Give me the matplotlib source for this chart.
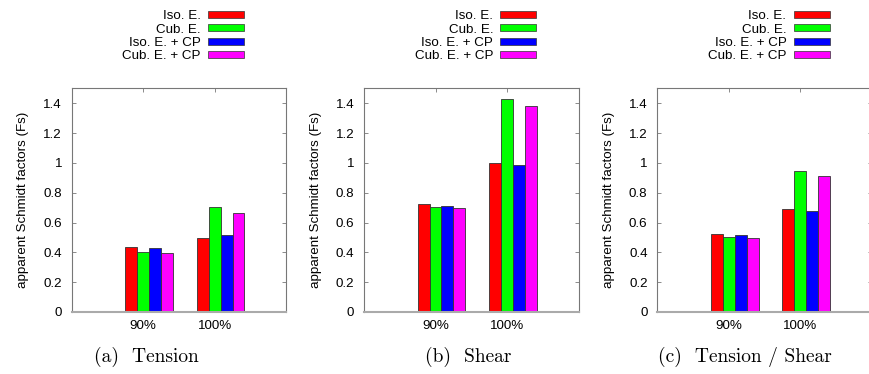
import matplotlib
matplotlib.use("Agg")
import matplotlib.pyplot as plt
import numpy as np

plt.rcParams['font.family'] = ['Liberation Sans', 'DejaVu Sans']

categories = ["90%", "100%"]
series_names = ["Iso. E.", "Cub. E.", "Iso. E. + CP", "Cub. E. + CP"]
series_colors = ["#ff0000", "#00ff00", "#0000ff", "#ff00ff"]

tension = [[0.435, 0.498], [0.402, 0.706], [0.426, 0.514], [0.397, 0.663]]
shear = [[0.723, 1.000], [0.703, 1.429], [0.712, 0.987], [0.697, 1.382]]
tension_shear = [[0.520, 0.690], [0.505, 0.947], [0.513, 0.676], [0.493, 0.909]]

panels = [tension, shear, tension_shear]
captions = ["(a)  Tension", "(b)  Shear", "(c)  Tension / Shear"]
yticks = [0, 0.2, 0.4, 0.6, 0.8, 1.0, 1.2, 1.4]
ytick_labels = ["0", "0.2", "0.4", "0.6", "0.8", "1", "1.2", "1.4"]

W, H = 869, 374
fig = plt.figure(figsize=(W / 100, H / 100), dpi=100)

lefts = [71.7, 364.0, 657.3]
caption_x = [146.7, 468.0, 745.0]
ax_w = 214.5
ax_bottom = 312.0
ax_top = 88.3
fs = 9.6

bw = 1.0 / 6
x = np.arange(len(categories))
for k, (data, cap) in enumerate(zip(panels, captions)):
    ax = fig.add_axes([lefts[k] / W, (H - ax_bottom) / H, ax_w / W, (ax_bottom - ax_top) / H])
    for j, (name, col) in enumerate(zip(series_names, series_colors)):
        ax.bar(x + (j - 1) * bw, data[j], width=bw, color=col, edgecolor='#333333',
               linewidth=0.6, label=name, zorder=2)
    ax.set_xlim(-1, 2)
    ax.set_ylim(0, 1.5)
    ax.set_yticks(yticks)
    ax.set_yticklabels(ytick_labels)
    ax.set_xticks(x)
    ax.set_xticklabels(categories)
    ax.tick_params(axis='y', direction='in', left=True, right=True, length=3,
                   width=0.6, color='#777777', labelsize=fs, pad=7)
    ax.tick_params(axis='x', direction='in', top=True, bottom=False, length=3,
                   width=0.6, color='#777777', labelsize=fs, pad=6)
    for s in ['left', 'right', 'top']:
        ax.spines[s].set_color('#777777')
        ax.spines[s].set_linewidth(0.8)
    ax.spines['bottom'].set_color('#aaaaaa')
    ax.spines['bottom'].set_linewidth(1.5)
    ax.set_ylabel("apparent Schmidt factors (Fs)", fontsize=fs, labelpad=10)
    leg = ax.legend(loc='upper right', bbox_to_anchor=((244 - 71.7) / 214.3, 1.348),
                    frameon=False, markerfirst=False, fontsize=fs, borderpad=0,
                    handlelength=2.7, handleheight=0.42, handletextpad=0.55,
                    labelspacing=0.09, borderaxespad=0)
    for p in leg.get_patches():
        p.set_edgecolor('#333333')
        p.set_linewidth(0.5)
    fig.text(caption_x[k] / W, (H - 357) / H, cap, family='cmr10', fontsize=14,
             ha='center', va='center')

fig.savefig("out.png", dpi=100)
